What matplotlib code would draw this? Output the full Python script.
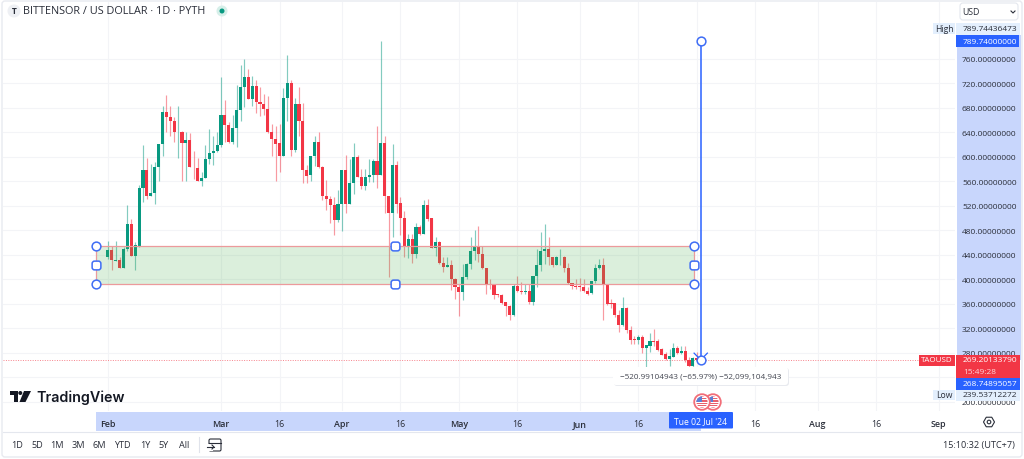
import numpy as np
import matplotlib
matplotlib.use('Agg')
import matplotlib.pyplot as plt
from matplotlib.patches import Rectangle, FancyBboxPatch, Circle, Polygon, BoxStyle

plt.rcParams['font.family'] = ['Open Sans', 'DejaVu Sans']

# daily candles, first one is 1 Feb 2024, prices in USD
opens = [437,448,430,432,418,449,490,438,454,549,578,537,541,583,621,673,666,658,640,641,
         623,628,584,582,560,566,597,606,609,620,669,652,624,647,677,715,731,694,716,690,
         687,679,640,630,622,602,697,720,612,687,658,579,570,601,624,583,536,531,522,497,
         523,579,523,557,600,567,552,567,570,593,571,623,537,509,587,525,500,454,466,442,
         485,474,521,500,451,461,427,421,423,401,387,380,404,425,447,454,442,418,393,392,
         376,374,363,357,342,390,381,380,382,364,405,424,447,450,436,424,436,437,419,394,
         390,389,387,381,378,397,418,424,392,362,362,342,325,353,317,303,302,306,288,292,
         300,300,287,278,270,274,288,280,284,268,258,272]
highs = [463,455,463,436,453,522,498,461,554,620,598,589,591,621,683,701,683,665,683,643,
         640,639,610,598,575,620,646,635,641,730,693,657,669,718,750,760,743,732,725,714,
         702,699,654,651,654,712,767,726,697,714,688,587,602,634,641,586,563,537,535,546,
         579,603,597,622,603,580,580,596,597,651,790,635,537,621,593,535,512,474,475,493,
         489,530,531,500,470,463,436,436,431,402,393,425,427,470,480,487,454,418,401,392,
         376,376,364,358,393,405,396,393,393,406,450,477,491,469,436,439,449,439,427,395,
         400,402,401,387,398,425,433,435,393,368,362,351,371,355,324,308,309,309,293,313,
         319,303,288,281,287,296,292,292,292,273,273,282]
lows = [434,416,430,418,418,447,438,416,453,526,531,536,524,560,602,640,634,624,599,561,
        561,583,564,560,552,565,589,587,608,616,624,623,621,617,659,681,694,683,672,667,
        669,639,602,560,575,601,659,602,608,635,557,557,560,585,582,529,513,493,472,494,
        479,509,523,540,567,547,546,559,559,550,571,509,404,470,509,472,437,435,427,435,
        473,474,496,451,439,426,412,420,383,368,340,367,401,417,431,428,417,376,384,368,
        371,360,340,334,341,379,376,376,360,358,387,414,425,423,420,423,424,413,393,384,
        384,382,379,375,376,395,417,334,359,353,338,314,324,313,295,295,295,280,240,281,
        292,284,276,269,259,273,278,278,266,257,257,268]
closes = [448,431,432,418,449,490,438,456,549,578,536,541,583,621,673,666,658,640,641,623,
          628,583,583,560,566,597,606,609,620,669,652,624,647,677,715,731,694,716,690,687,
          679,640,630,621,602,697,720,612,687,658,579,569,601,624,583,536,531,522,497,523,
          579,524,557,600,567,552,567,570,593,571,623,537,509,587,523,500,454,466,442,485,
          474,521,499,451,461,427,421,423,401,387,380,404,425,447,454,442,418,392,391,375,
          374,362,357,342,390,382,380,382,364,405,424,447,450,436,424,436,437,419,394,390,
          388,387,381,377,398,418,424,392,360,360,342,325,353,317,302,302,306,288,293,300,
          298,285,277,270,275,288,280,284,268,258,272,269]

price_ticks = [200, 240, 280, 320, 360, 400, 440, 480, 520, 560, 600, 640, 680, 720, 760]
date_ticks = [0, 29, 44, 60, 75, 90, 105, 121, 136, 151, 166, 182, 197, 213]
# the July label sits under the crosshair date in the reference
date_labels = ['Feb', 'Mar', '16', 'Apr', '16', 'May', '16', 'Jun', '16', '', '16', 'Aug', '16', 'Sep']

band_top = 454
band_bottom = 392
band_start = -3.1
band_end = 150.3
measure_day = 152
measure_top = 789.74
measure_bottom = 268.75
last_price = 269.2

range_buttons = ['1D', '5D', '1M', '3M', '6M', 'YTD', '1Y', '5Y', 'All']
range_button_x = [17, 37, 57, 78, 99, 122, 145, 164, 184]

GREEN = '#089981'
RED = '#f23645'
BLUE = '#2962ff'
TEXT = '#2a2e39'


def px_axes(fig, zorder):
    # axes in picture pixels, for the interface around the chart
    a = fig.add_axes([0, 0, 1, 1], zorder=zorder)
    a.set_xlim(0, 1024)
    a.set_ylim(460, 0)
    a.axis('off')
    a.patch.set_alpha(0)
    return a


def box(a, x0, y0, x1, y1, color):
    a.add_patch(Rectangle((x0, y0), x1 - x0, y1 - y0, fc=color, ec='none'))


def draw_candles(ax):
    days = np.arange(len(opens))
    o, h, l, c = map(np.array, (opens, highs, lows, closes))
    colors = np.where(c >= o, GREEN, RED)
    ax.vlines(days, l, h, colors=colors, lw=0.85, alpha=0.5, zorder=3)
    ax.bar(days, np.abs(c - o), bottom=np.minimum(o, c), width=0.8, color=colors, zorder=4)


def draw_tools(ax):
    ax.add_patch(Rectangle((band_start, band_bottom), band_end - band_start, band_top - band_bottom,
                           fc='#4caf50', alpha=0.2, ec='none', zorder=5))
    ax.plot([band_start, band_end, band_end, band_start, band_start],
            [band_top, band_top, band_bottom, band_bottom, band_top], color='#ec9a9c', lw=0.9, zorder=6)
    ax.axhline(last_price, color='#f7838c', lw=0.7, ls=(0, (1, 1.5)), zorder=2)

    ax.plot([measure_day, measure_day], [measure_top, measure_bottom], color=BLUE, lw=1.1, zorder=7)
    ax.plot([measure_day - 1.7, measure_day, measure_day + 1.7],
            [measure_bottom + 11, measure_bottom, measure_bottom + 11], color=BLUE, lw=0.9, zorder=7)

    handle = dict(mfc='white', mec='#3f6df5', mew=1.1, ms=6.3, ls='none', zorder=8)
    rounded = BoxStyle.Round(pad=0, rounding_size=0.28)(-0.5, -0.5, 1, 1, 1)
    mid_day = (band_start + band_end) / 2
    mid_price = (band_top + band_bottom) / 2
    ax.plot([band_start, band_start, band_end, band_end, measure_day, measure_day],
            [band_top, band_bottom, band_top, band_bottom, measure_top, measure_bottom],
            marker='o', **handle)
    ax.plot([band_start, band_end, mid_day, mid_day],
            [mid_price, mid_price, band_top, band_bottom], marker=rounded, **handle)


def draw_flag(ui, x, y):
    ui.add_patch(Circle((x, y), 7.8, fc='white', ec='#f26d78', lw=1.3))
    clip = Circle((x, y), 5.6, transform=ui.transData)
    for i in range(6):
        r = Rectangle((x - 6, y - 6 + i * 2.2), 12, 1.2, fc='#e8606c', ec='none')
        ui.add_patch(r)
        r.set_clip_path(clip)
    r = Rectangle((x - 6, y - 6), 6, 6, fc='#5a7fd6', ec='none')
    ui.add_patch(r)
    r.set_clip_path(clip)


def draw_interface(bg, ui):
    # backgrounds behind the axis labels
    box(bg, 957, 36, 1021, 361, '#c8d6fc')
    box(bg, 96, 413, 701, 432, '#c8d6fc')

    # frame
    ui.add_patch(FancyBboxPatch((2, 2), 1020, 456, boxstyle='round,pad=0,rounding_size=3',
                                fc='none', ec='#e8eaf0', lw=1))
    ui.plot([3, 1021], [432.5, 432.5], color='#e4e7ee', lw=0.8)

    # header
    ui.add_patch(Circle((14, 12), 6.5, fc='#eef0f4', ec='none'))
    ui.text(14, 12, 'T', fontsize=6, fontweight='bold', color=TEXT, ha='center', va='center')
    ui.text(23, 12, 'BITTENSOR / US DOLLAR · 1D · PYTH', fontsize=7.8, color=TEXT, va='center')
    ui.add_patch(Circle((222, 12), 5.5, fc='#d6efe9', ec='none'))
    ui.add_patch(Circle((222, 12), 2.5, fc=GREEN, ec='none'))

    # currency selector
    ui.add_patch(FancyBboxPatch((960, 4), 58, 17, boxstyle='round,pad=0,rounding_size=3',
                                fc='white', ec='#e4e7ee', lw=0.8))
    ui.text(962, 12.5, 'USD', fontsize=6.3, color=TEXT, va='center')
    ui.plot([1011, 1013, 1015], [12, 14, 12], color=TEXT, lw=0.8)

    # price tags, top
    box(ui, 933, 24, 955, 35, '#e3effd')
    ui.text(944, 29.5, 'High', fontsize=6.2, color=TEXT, ha='center', va='center')
    box(ui, 956, 24, 1020, 35.5, '#e3effd')
    ui.text(963, 29.5, '789.74436473', fontsize=6, color=TEXT, va='center')
    box(ui, 956, 36, 1019, 47.5, BLUE)
    ui.text(963, 42, '789.74000000', fontsize=6, color='white', va='center')

    # price tags, bottom
    box(ui, 919, 355.5, 955, 367, RED)
    ui.text(937, 361, 'TAOUSD', fontsize=5.8, color='white', ha='center', va='center')
    box(ui, 956, 355.5, 1020, 379, RED)
    ui.text(963, 361, '269.20133790', fontsize=6, color='white', va='center')
    ui.text(963, 372.5, '15:49:28', fontsize=6, color='#fcd5d9', va='center')
    box(ui, 956, 379, 1020, 390.5, BLUE)
    ui.text(963, 384.5, '268.74895057', fontsize=6, color='white', va='center')
    box(ui, 933, 390.5, 955, 401, '#e3effd')
    ui.text(944, 396, 'Low', fontsize=6.2, color=TEXT, ha='center', va='center')
    box(ui, 956, 390.5, 1020, 401.5, '#e3effd')
    ui.text(963, 396, '239.53712272', fontsize=6, color=TEXT, va='center')

    # measure tooltip
    ui.add_patch(FancyBboxPatch((614, 369), 175, 18, boxstyle='round,pad=0,rounding_size=3',
                                fc='#e8eaef', ec='none'))
    ui.add_patch(FancyBboxPatch((613, 368), 175, 18, boxstyle='round,pad=0,rounding_size=3',
                                fc='white', ec='none'))
    ui.text(700.5, 377, '\u2212520.99104943 (\u221265.97%) \u221252,099,104,943', fontsize=5.85,
            color='#434651', ha='center', va='center')

    # logo
    ui.add_patch(Polygon([(9.5, 392), (18, 392), (18, 403), (13.5, 403), (13.5, 396), (9.5, 396)],
                         fc='#131722', ec='none'))
    ui.add_patch(Circle((20.3, 394), 2, fc='#131722', ec='none'))
    ui.add_patch(Polygon([(24, 392), (31, 392), (25.5, 403), (19.5, 403)], fc='#131722', ec='none'))
    ui.text(36, 397.5, 'TradingView', fontsize=10.3, fontweight='semibold', family='Inter',
            color='#131722', va='center')

    # events on the time axis
    draw_flag(ui, 713, 403)
    draw_flag(ui, 702, 403)

    # crosshair date
    ui.add_patch(FancyBboxPatch((669, 413), 64, 16.5, boxstyle='round,pad=0,rounding_size=1',
                                fc=BLUE, ec='none'))
    ui.text(701, 422, "Tue 02 Jul '24", fontsize=6.2, color='white', ha='center', va='center')

    # settings icon
    ang = np.deg2rad(np.arange(0, 360, 60))
    ui.add_patch(Polygon(np.c_[989 + 5.5 * np.cos(ang), 423 + 5.5 * np.sin(ang)], fc='none', ec=TEXT, lw=0.8))
    ui.add_patch(Circle((989, 423), 1.8, fc='none', ec=TEXT, lw=0.8))

    # bottom toolbar
    for label, x in zip(range_buttons, range_button_x):
        ui.text(x, 446, label, fontsize=6.6, color=TEXT, ha='center', va='center')
    ui.plot([198.5, 198.5], [438, 453], color='#e0e3eb', lw=0.8)
    ui.add_patch(FancyBboxPatch((209, 440), 12, 12, boxstyle='round,pad=0,rounding_size=1.5',
                                fc='none', ec=TEXT, lw=0.8))
    box(ui, 207, 445, 213, 452, 'white')
    ui.plot([207, 214], [448, 448], color=TEXT, lw=0.8)
    ui.plot([212, 214, 212], [446, 448, 450], color=TEXT, lw=0.8)
    ui.plot([209, 221], [443.5, 443.5], color=TEXT, lw=0.8)
    ui.text(1015, 446, '15:10:32 (UTC+7)', fontsize=6.6, color=TEXT, ha='right', va='center')


def generate_chart():
    fig = plt.figure(figsize=(10.24, 4.6), dpi=100, facecolor='white')
    bg = px_axes(fig, 0)
    ui = px_axes(fig, 2)

    ax = fig.add_axes([3 / 1024, 48 / 460, 952 / 1024, 409 / 460], zorder=1)
    ax.patch.set_alpha(0)
    ax.set_xlim(-26.9, 217.2)
    ax.set_ylim(185.3, 853)
    for s in ax.spines.values():
        s.set_visible(False)

    ax.yaxis.tick_right()
    ax.set_yticks(price_ticks, [f'{p:.8f}' for p in price_ticks])
    ax.set_xticks(date_ticks, date_labels)
    ax.tick_params(axis='both', length=0, labelsize=6, labelcolor=TEXT)
    ax.tick_params(axis='y', pad=5)
    ax.tick_params(axis='x', pad=5.5, labelsize=6.4)
    for t in ax.get_xticklabels():
        if t.get_text() != '16':
            t.set_fontweight('semibold')
    ax.grid(True, color='#f3f4f7', lw=0.8, zorder=0)
    ax.set_axisbelow(True)

    draw_candles(ax)
    draw_tools(ax)
    draw_interface(bg, ui)

    fig.savefig('out.png', dpi=100)
    plt.close(fig)


if __name__ == "__main__":
    generate_chart()
